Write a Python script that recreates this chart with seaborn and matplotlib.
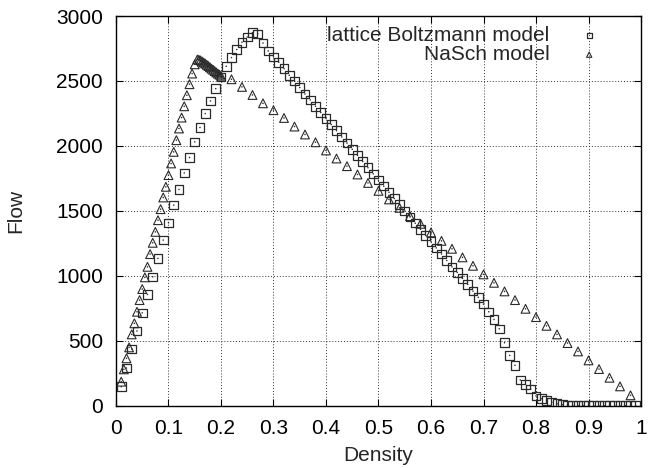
import matplotlib
matplotlib.use("Agg")
import matplotlib.pyplot as plt
import seaborn as sns
import pandas as pd

# ---------------- data ----------------
lb_density = [0.01, 0.02, 0.03, 0.04, 0.05, 0.06, 0.07, 0.08, 0.09, 0.10,
              0.11, 0.12, 0.13, 0.14, 0.15, 0.16, 0.17, 0.18, 0.19, 0.20,
              0.21, 0.22, 0.23, 0.24, 0.25, 0.26, 0.27, 0.28, 0.29, 0.30,
              0.31, 0.32, 0.33, 0.34, 0.35, 0.36, 0.37, 0.38, 0.39, 0.40,
              0.41, 0.42, 0.43, 0.44, 0.45, 0.46, 0.47, 0.48, 0.49, 0.50,
              0.51, 0.52, 0.53, 0.54, 0.55, 0.56, 0.57, 0.58, 0.59, 0.60,
              0.61, 0.62, 0.63, 0.64, 0.65, 0.66, 0.67, 0.68, 0.69, 0.70,
              0.71, 0.72, 0.73, 0.74, 0.75, 0.76, 0.77, 0.78, 0.79, 0.80,
              0.81, 0.82, 0.83, 0.84, 0.85, 0.86, 0.87, 0.88, 0.89, 0.90,
              0.91, 0.92, 0.93, 0.94, 0.95, 0.96, 0.97, 0.98, 0.99]
lb_flow = [146, 290, 436, 575, 715, 857, 992, 1134, 1275, 1408,
           1544, 1665, 1792, 1911, 2031, 2142, 2249, 2346, 2441, 2531,
           2613, 2680, 2742, 2798, 2838, 2872, 2862, 2792, 2731, 2685,
           2644, 2595, 2544, 2498, 2449, 2400, 2354, 2305, 2257, 2211,
           2164, 2117, 2069, 2022, 1974, 1927, 1880, 1832, 1785, 1736,
           1690, 1643, 1595, 1548, 1500, 1453, 1405, 1358, 1310, 1262,
           1215, 1168, 1118, 1069, 1026, 980, 934, 882, 834, 782,
           723, 664, 592, 485, 387, 311, 198, 164, 128, 75,
           54, 38, 26, 15, 8, 4, 2, 1, 1, 0,
           0, 0, 0, 0, 0, 0, 0, 0, 0]

nasch_density = [0.010, 0.015, 0.020, 0.025, 0.030, 0.035, 0.040, 0.045, 0.050, 0.055,
                 0.060, 0.065, 0.070, 0.075, 0.080, 0.085, 0.090, 0.095, 0.100, 0.105,
                 0.110, 0.115, 0.120, 0.125, 0.130, 0.135, 0.140, 0.145, 0.150,
                 0.1550, 0.1580, 0.1610, 0.1640, 0.1670, 0.1700, 0.1730,
                 0.1760, 0.1790, 0.1820, 0.1850, 0.1880, 0.1910,
                 0.1940, 0.1970, 0.2000,
                 0.22, 0.24, 0.26, 0.28, 0.30, 0.32, 0.34, 0.36, 0.38, 0.40,
                 0.42, 0.44, 0.46, 0.48, 0.50, 0.52, 0.54, 0.56, 0.58, 0.60,
                 0.62, 0.64, 0.66, 0.68, 0.70, 0.72, 0.74, 0.76, 0.78, 0.80,
                 0.82, 0.84, 0.86, 0.88, 0.90, 0.92, 0.94, 0.96, 0.98]
nasch_flow = [185, 280, 365, 449, 549, 634, 723, 813, 898, 988,
              1069, 1167, 1254, 1338, 1428, 1513, 1603, 1685, 1775, 1865,
              1954, 2044, 2134, 2218, 2305, 2390, 2475, 2557, 2628,
              2665, 2663, 2658, 2650, 2642, 2634, 2624,
              2615, 2605, 2595, 2586, 2576, 2566,
              2557, 2549, 2540,
              2513, 2454, 2392, 2328, 2275, 2215, 2149, 2088, 2028, 1965,
              1903, 1844, 1780, 1715, 1654, 1588, 1523, 1459, 1400, 1334,
              1269, 1208, 1142, 1077, 1011, 946, 880, 813, 746, 682,
              615, 549, 482, 418, 349, 282, 215, 149, 80]

x_ticks = [0, 0.1, 0.2, 0.3, 0.4, 0.5, 0.6, 0.7, 0.8, 0.9, 1]
x_tick_labels = ["0", "0.1", "0.2", "0.3", "0.4", "0.5", "0.6", "0.7", "0.8", "0.9", "1"]
y_ticks = [0, 500, 1000, 1500, 2000, 2500, 3000]

lb_df = pd.DataFrame({"Density": lb_density, "Flow": lb_flow})
ns_df = pd.DataFrame({"Density": nasch_density, "Flow": nasch_flow})

# ---------------- style ----------------
sns.set_style("ticks")
plt.rcParams["font.family"] = ["Liberation Sans", "DejaVu Sans"]
plt.rcParams["font.size"] = 15

fig = plt.figure(figsize=(6.49, 4.68), dpi=100)
ax = fig.add_axes([0.1787, 0.1331, 0.8090, 0.8327])

edge = "#2a2a2a"
sns.scatterplot(data=lb_df, x="Density", y="Flow", marker="s", s=38,
                facecolor="none", edgecolor=edge, linewidth=0.9,
                label="lattice Boltzmann model", ax=ax, zorder=3)
sns.scatterplot(data=ns_df, x="Density", y="Flow", marker="^", s=40,
                facecolor="none", edgecolor=edge, linewidth=0.8,
                label="NaSch model", ax=ax, zorder=3)
# tiny centre dots (gnuplot point style)
sns.scatterplot(data=lb_df, x="Density", y="Flow", marker="o", s=1.2,
                color=edge, edgecolor="none", linewidth=0, legend=False, ax=ax, zorder=4)
sns.scatterplot(data=ns_df, x="Density", y="Flow", marker="o", s=1.2,
                color=edge, edgecolor="none", linewidth=0, legend=False, ax=ax, zorder=4)

ax.set_xlim(0, 1)
ax.set_ylim(0, 3000)
ax.set_xticks(x_ticks)
ax.set_xticklabels(x_tick_labels)
ax.set_yticks(y_ticks)

ax.grid(True, linestyle=(0, (1, 2)), color="#333333", linewidth=0.7)
ax.set_axisbelow(True)
for sp in ax.spines.values():
    sp.set_visible(True)
    sp.set_color("black")
    sp.set_linewidth(1.0)

ax.tick_params(direction="in", length=5, width=0.8, top=True, right=True,
               labelsize=15, colors="black")
ax.tick_params(axis="y", pad=9.4)
ax.tick_params(axis="x", pad=9.5)

ax.set_xlabel("Density", fontsize=15, labelpad=6)
ax.set_ylabel("Flow", fontsize=15, labelpad=22)

leg = ax.legend(loc="upper right", bbox_to_anchor=(0.941, 0.974), frameon=False,
                markerfirst=False, handlelength=2.0, handletextpad=0.9,
                borderaxespad=0.0, borderpad=0.0, labelspacing=0.0,
                markerscale=0.6, fontsize=15)

fig.savefig("out.png", dpi=100)
